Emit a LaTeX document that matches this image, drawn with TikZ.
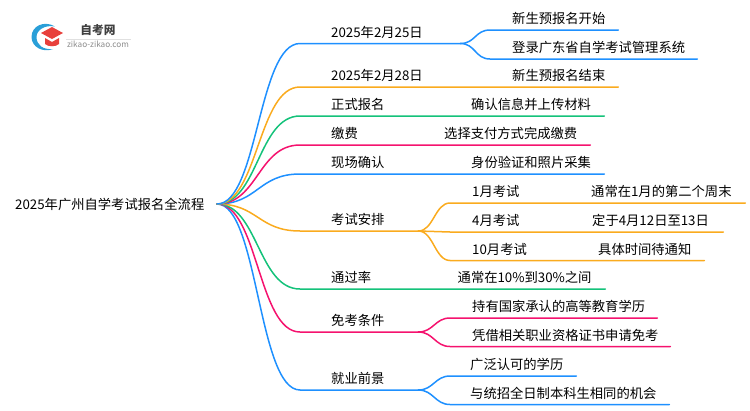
\documentclass[tikz,border=0pt]{standalone}
\usepackage{fontspec}
\setmainfont{Noto Sans CJK SC}
\definecolor{cblue}{HTML}{1E90FF}
\definecolor{corange}{HTML}{FAAB1E}
\definecolor{cgreen}{HTML}{14C27A}
\definecolor{cpink}{HTML}{F5126E}
\definecolor{logoblue}{HTML}{2A9FD8}
\definecolor{logored}{HTML}{E8403C}
\usetikzlibrary{calc}
\tikzset{
  lab/.style={anchor=south west,inner xsep=0pt,inner ysep=3.5pt,font=\fontsize{13.3}{15}\selectfont,align=left,text depth=2.5pt,text height=11.5pt},
  link/.style={line width=1.5pt,line cap=round},
}
\begin{document}
\begin{tikzpicture}[x=1pt,y=-1pt]
\useasboundingbox (0,0) rectangle (750,410);
% logo
\fill[logoblue] (55,26.5) .. controls (44,20) and (31.5,26) .. (31.5,37) .. controls (31.5,47) and (43,53) .. (53,49) .. controls (43,50) and (36.5,45) .. (36.5,37) .. controls (36.5,30) and (45,24.5) .. (55,26.5) -- cycle;
\fill[logored] (52,27) -- (63,33) -- (52,39) -- (41,33) -- cycle;
\fill[logored] (45,38) -- (52,42) -- (59,38) -- (59,44) .. controls (56,47) and (48,47) .. (45,44) -- cycle;
\node[font=\bfseries\fontsize{11.7}{13}\selectfont,text=black!75,inner sep=0pt] (logoa) at (98,30.5) {自考网};
\node[font=\fontsize{8.2}{9}\selectfont,text=black!45,inner sep=0pt] (logob) at (98,44.5) {zikao-zikao.com};
\draw[black!12,line width=.6pt] (66,39) -- (131,39);
% root
\node[anchor=west,inner sep=0pt,font=\fontsize{13.3}{15}\selectfont] (root) at (15,204) {2025年广州自学考试报名全流程};
\coordinate (r) at (217,204);
% nodes that span their underlines
\foreach \nm/\x/\y/\w/\ind/\txt in {
 a/300/43.5/160/31/2025年2月25日,
 a1/490/30/128/22/新生预报名开始,
 a2/490/59/207/22/登录广东省自学考试管理系统,
 b/300/87/318/31/2025年2月28日,
 c/300/116/304/31/正式报名,
 d/300/145/290/31/缴费,
 e/300/174/304/31/现场确认,
 f/300/231/118/31/考试安排,
 f1/450/203/295/22/1月考试,
 f2/450/232/273/22/4月考试,
 f3/450/260.5/254/22/10月考试,
 g/300/289/305/31/通过率,
 h/300/332/118/31/免考条件,
 h1/450/318/207/22/持有国家承认的高等教育学历,
 h2/450/346.5/220/22/凭借相关职业资格证书申请免考,
 i/300/390/118/31/就业前景,
 i1/450/376/126/20/广泛认可的学历,
 i2/450/404.5/219/20/与统招全日制本科生相同的机会}{
 \node[lab,text width=\w pt] (\nm) at (\x,\y) {\hspace*{\ind pt}\txt};
}
% second texts on the same line
\foreach \nm/\x/\y/\txt in {
 bt/512/87/新生预报名结束, ct/471/116/确认信息并上传材料, dt/444/145/选择支付方式完成缴费,
 et/471/174/身份验证和照片采集, gt/457.5/289/通常在10\%到30\%之间,
 f1t/591/203/通常在1月的第二个周末, f2t/592/232/定于4月12日至13日, f3t/598/260.5/具体时间待通知}{
 \node[lab] (\nm) at (\x,\y) {\txt};
}
% level one curves
\foreach \nm/\col in {i/cblue,h/cpink,g/cgreen,f/corange,e/cblue,d/cpink,c/cgreen,b/corange,a/cblue}{
 \draw[link,\col] (r) .. controls (258,204) and ($(\nm.south west)+(-42,0)$) .. (\nm.south west) -- (\nm.south east);
}
% forks
\foreach \p/\c/\col in {a/a1/cblue,a/a2/cblue,f/f1/corange,f/f2/corange,f/f3/corange,h/h1/cpink,h/h2/cpink,i/i1/cblue,i/i2/cblue}{
 \draw[link,\col] (\p.south east) .. controls ($(\p.south east)+(15,0)$) and ($(\c.south west)+(-15,0)$) .. (\c.south west) -- (\c.south east);
}
\end{tikzpicture}
\end{document}
